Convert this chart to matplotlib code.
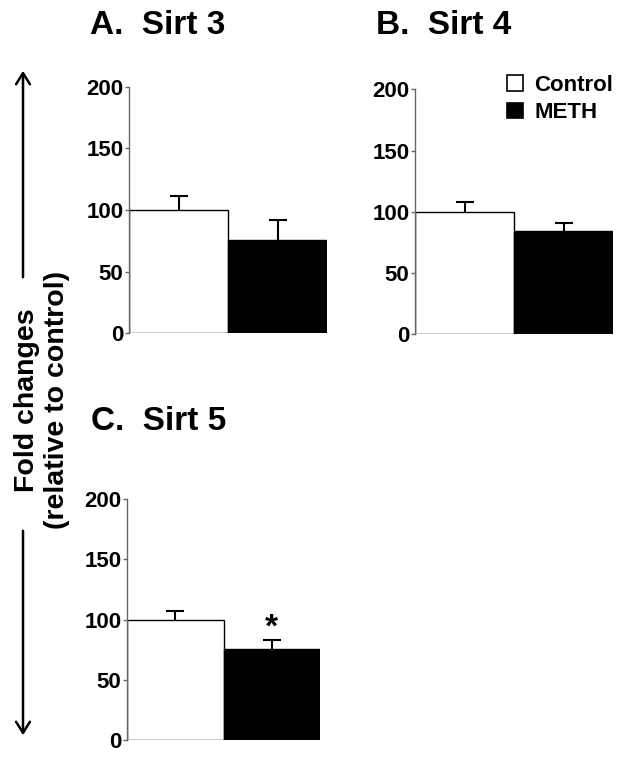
import matplotlib
matplotlib.use("Agg")
import matplotlib.pyplot as plt
from matplotlib.patches import Patch, FancyArrowPatch

plt.rcParams['font.family'] = ['Liberation Sans', 'DejaVu Sans']
plt.rcParams['font.weight'] = 'bold'

groups = ["Control", "METH"]
colors = ["white", "black"]
panel_titles = ["A.  Sirt 3", "B.  Sirt 4", "C.  Sirt 5"]
sirt3_mean = [100, 76]
sirt3_err = [11, 16]
sirt4_mean = [100, 84]
sirt4_err = [8, 7]
sirt5_mean = [100, 76]
sirt5_err = [7, 7]
sig_marks = [["", ""], ["", ""], ["", "*"]]
y_ticks = [0, 50, 100, 150, 200]

W, H = 624, 763
fig = plt.figure(figsize=(W / 100, H / 100), dpi=100)

def px_axes(x0, x1, ytop, ybot):
    return fig.add_axes([x0 / W, 1 - ybot / H, (x1 - x0) / W, (ybot - ytop) / H])

axA = px_axes(129, 327, 86.7, 333.3)
axB = px_axes(415, 613.3, 89.3, 334.3)
axC = px_axes(127, 320, 499.3, 740)

data = [(axA, sirt3_mean, sirt3_err), (axB, sirt4_mean, sirt4_err), (axC, sirt5_mean, sirt5_err)]
title_pos = [(90, 26), (376, 26), (91, 422)]

for i, (ax, means, errs) in enumerate(data):
    x = list(range(len(groups)))
    ax.bar(x, means, width=1.0, color=colors, edgecolor='black', linewidth=1.0, zorder=2)
    eb = ax.errorbar(x, means, yerr=[[0] * len(errs), errs], fmt='none', ecolor='black',
                     elinewidth=1.5, capsize=6.5, capthick=1.5, zorder=1)
    caplines = eb[1]
    if len(caplines) == 2:
        caplines[0].set_visible(False)
    for xi, m, e, s in zip(x, means, errs, sig_marks[i]):
        if s:
            ax.text(xi, m + e + 10, s, ha='center', va='center', fontsize=24, fontweight='bold')
    ax.set_xlim(-0.5, 1.5)
    ax.set_ylim(0, 200)
    ax.set_yticks(y_ticks)
    ax.set_yticklabels([str(t) for t in y_ticks], fontsize=16, fontweight='bold')
    ax.set_xticks([])
    for sp in ['top', 'right', 'bottom']:
        ax.spines[sp].set_visible(False)
    ax.spines['left'].set_color('#666666')
    ax.spines['left'].set_linewidth(1.0)
    ax.tick_params(axis='y', length=3, width=1, color='#666666', pad=1)
    ax.patch.set_alpha(0)
    tx, ty = title_pos[i]
    fig.text(tx / W, 1 - ty / H, panel_titles[i], fontsize=24, fontweight='bold',
             ha='left', va='center')

handles = [Patch(facecolor=c, edgecolor='black', linewidth=1.2) for c in colors]
axB.legend(handles, groups, loc='upper right', bbox_to_anchor=(1.0, 1.06), frameon=False,
           handlelength=0.72, handleheight=0.72, handletextpad=0.5,
           labelspacing=0.3, borderpad=0, borderaxespad=0, prop={'weight': 'bold', 'size': 16})

# y label with arrows
fig.text(42 / W, 1 - 400 / H, "Fold changes\n(relative to control)", rotation=90,
         ha='center', va='center', multialignment='center', fontsize=20.5, fontweight='bold',
         linespacing=1.15)
for y0, y1 in [(280, 68), (528, 738)]:
    fig.add_artist(FancyArrowPatch((23 / W, 1 - y0 / H), (23 / W, 1 - y1 / H),
                   transform=fig.transFigure, arrowstyle='->,head_length=8,head_width=5',
                   mutation_scale=1, linewidth=1.8, color='black'))

fig.savefig("out.png", dpi=100, facecolor='white')
